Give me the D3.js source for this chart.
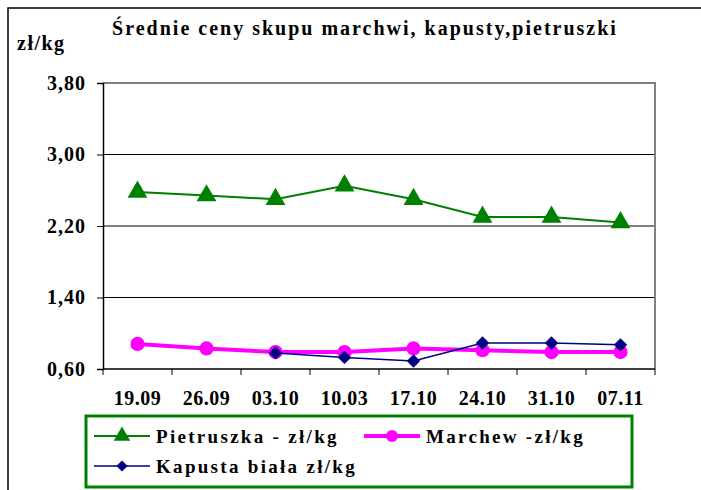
<!DOCTYPE html>
<html>
<head>
<meta charset="utf-8">
<script src="https://cdn.jsdelivr.net/npm/d3@7"></script>
<style>
  body { margin: 0; background: #fff; }
  svg text { font-family: "Liberation Serif", "Times New Roman", serif; font-weight: bold; fill: #000; }
</style>
</head>
<body>
<svg id="wykres" width="701" height="490"></svg>
<script>
// dane
const daty = ['19.09', '26.09', '03.10', '10.03', '17.10', '24.10', '31.10', '07.11'];
const pietruszka = [2.58, 2.54, 2.50, 2.65, 2.50, 2.30, 2.30, 2.24];
const marchew = [0.88, 0.83, 0.79, 0.79, 0.83, 0.81, 0.79, 0.79];
const kapusta = [null, null, 0.78, 0.73, 0.69, 0.89, 0.89, 0.87];
const yTicks = [0.6, 1.4, 2.2, 3.0, 3.8];

const svg = d3.select('#wykres');

// ramka calego wykresu
svg.append('rect')
    .attr('x', 8).attr('y', 8)
    .attr('width', 720).attr('height', 520)
    .attr('fill', 'none').attr('stroke', '#000').attr('stroke-width', 1.5);

const pLeft = 103, pRight = 655, pTop = 83, pBottom = 369;

const x = d3.scaleBand().domain(daty).range([pLeft, pRight]);
const y = d3.scaleLinear().domain([0.6, 3.8]).range([pBottom, pTop]);
const fmt = v => d3.format('.2f')(v).replace('.', ',');

// siatka
svg.append('g').selectAll('line')
    .data(yTicks.slice(1, -1))
    .enter().append('line')
    .attr('x1', pLeft).attr('x2', pRight)
    .attr('y1', d => y(d)).attr('y2', d => y(d))
    .attr('stroke', '#000').attr('stroke-width', 1);

// ramka obszaru (gora, prawo)
svg.append('path')
    .attr('d', `M${pLeft},${y(3.8)}H${pRight}V${pBottom}`)
    .attr('fill', 'none').attr('stroke', '#808080').attr('stroke-width', 2);

// os Y
const osY = svg.append('g')
    .attr('transform', `translate(${pLeft},0)`)
    .call(d3.axisLeft(y).tickValues(yTicks).tickFormat(fmt).tickSize(6).tickPadding(11));
osY.select('.domain').attr('stroke', '#000').attr('stroke-width', 1.5);
osY.selectAll('text').attr('font-size', 20).style('letter-spacing', '1px');

// os X
const osX = svg.append('g')
    .attr('transform', `translate(0,${pBottom})`);
osX.append('line')
    .attr('x1', pLeft).attr('x2', pRight)
    .attr('stroke', '#000').attr('stroke-width', 1.5);
osX.selectAll('line.tick')
    .data(daty.map(d => x(d)).concat([pRight]))
    .enter().append('line')
    .attr('class', 'tick')
    .attr('x1', d => d).attr('x2', d => d)
    .attr('y1', 0).attr('y2', 6)
    .attr('stroke', '#000').attr('stroke-width', 1);
osX.selectAll('text')
    .data(daty)
    .enter().append('text')
    .attr('x', d => x(d) + x.bandwidth() / 2)
    .attr('y', 36)
    .attr('text-anchor', 'middle')
    .attr('font-size', 20)
    .style('letter-spacing', '0.5px')
    .text(d => d);

// tytul i jednostka
svg.append('text')
    .attr('x', 365).attr('y', 35)
    .attr('text-anchor', 'middle')
    .attr('font-size', 20)
    .style('letter-spacing', '2px')
    .text('Średnie ceny skupu marchwi, kapusty,pietruszki');

svg.append('text')
    .attr('x', 17).attr('y', 50)
    .attr('font-size', 20)
    .style('letter-spacing', '1.5px')
    .text('zł/kg');

const cx = (d, i) => x(daty[i]) + x.bandwidth() / 2;

const linia = d3.line()
    .defined(d => d !== null)
    .x(cx)
    .y(d => y(d));

// serie (kapusta: kwadrat obrocony o 45 stopni)
const serie = [
    { nazwa: 'Pietruszka - zł/kg', dane: pietruszka, kolor: '#008000', grubosc: 2, znak: d3.symbolTriangle, rozmiar: 170, obrot: 0 },
    { nazwa: 'Marchew -zł/kg', dane: marchew, kolor: '#ff00ff', grubosc: 4, znak: d3.symbolCircle, rozmiar: 160, obrot: 0 },
    { nazwa: 'Kapusta biała zł/kg', dane: kapusta, kolor: '#000080', grubosc: 1.5, znak: d3.symbolSquare, rozmiar: 90, obrot: 45 }
];

serie.forEach(s => {
    svg.append('path')
        .datum(s.dane)
        .attr('d', linia)
        .attr('fill', 'none')
        .attr('stroke', s.kolor)
        .attr('stroke-width', s.grubosc);

    svg.append('g').selectAll('path')
        .data(s.dane.map((d, i) => ({ d, i })).filter(p => p.d !== null))
        .enter().append('path')
        .attr('d', d3.symbol().type(s.znak).size(s.rozmiar))
        .attr('transform', p => `translate(${cx(p.d, p.i)},${y(p.d)}) rotate(${s.obrot})`)
        .attr('fill', s.kolor);
});

// legenda
svg.append('rect')
    .attr('x', 86).attr('y', 416)
    .attr('width', 546).attr('height', 71)
    .attr('fill', 'none').attr('stroke', '#008000').attr('stroke-width', 3);

const pozycje = [[94, 436], [364, 436], [94, 466]];

serie.forEach((s, i) => {
    const [lx, ly] = pozycje[i];
    const g = svg.append('g').attr('transform', `translate(${lx},${ly})`);
    g.append('line')
        .attr('x1', 0).attr('x2', 56)
        .attr('stroke', s.kolor).attr('stroke-width', s.grubosc);
    g.append('path')
        .attr('d', d3.symbol().type(s.znak).size(s.rozmiar * 0.7))
        .attr('transform', `translate(28,0) rotate(${s.obrot})`)
        .attr('fill', s.kolor);
    g.append('text')
        .attr('x', 62).attr('y', 7)
        .attr('font-size', 19)
        .style('letter-spacing', '2.3px')
        .text(s.nazwa);
});
</script>
</body>
</html>
